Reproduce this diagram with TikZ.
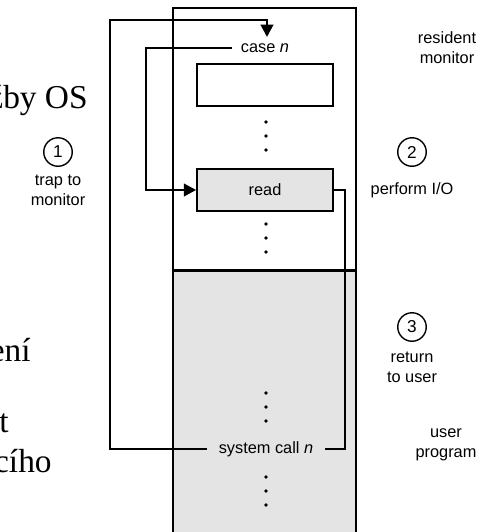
\documentclass[tikz,border=0pt]{standalone}
\usepackage{fontspec}
\setsansfont{Liberation Sans}
\newfontfamily\slidefont{Liberation Serif}
\usetikzlibrary{arrows.meta,positioning}

\definecolor{usergray}{HTML}{E4E4E4}

\tikzset{
  lbl/.style={font=\sffamily\fontsize{9.3}{11.5}\selectfont, align=center, inner sep=1pt},
  flow/.style={line width=1.6pt},
  stepnum/.style={circle, draw, line width=0.8pt, minimum size=0.57cm, inner sep=0pt, font=\sffamily\fontsize{9.8}{11}\selectfont},
  dot/.style={circle, fill, inner sep=0pt, minimum size=0.075cm}
}

\begin{document}
\begin{tikzpicture}[x=0.02cm, y=-0.02cm]
\useasboundingbox (0,0) rectangle (495,532);

% slide text behind the figure
\node (os) [anchor=east, inner sep=0pt, font=\slidefont\fontsize{19}{22}\selectfont] at (88,100) {žby OS};
\node (eni) [anchor=east, inner sep=0pt, font=\slidefont\fontsize{19}{22}\selectfont] at (31,350) {ení};
\node (tt) [anchor=east, inner sep=0pt, font=\slidefont\fontsize{19}{22}\selectfont] at (9,423) {t};
\node (ciho) [anchor=east, inner sep=0pt, font=\slidefont\fontsize{19}{22}\selectfont] at (52,461) {cího};

% memory
\fill[usergray] (173,270) rectangle (356,534);
\draw[line width=1.2pt] (173,534) -- (173,8) -- (356,8) -- (356,534);
\draw[line width=1.7pt] (173,270) -- (356,270);

\node (casen) [lbl, inner xsep=5pt] at (265,48) {case \textit{n}};
\node (tbl) [draw, line width=1.5pt, minimum width=2.72cm, minimum height=0.84cm] at (265,85) {};
\foreach \y in {122,136,150} \node[dot] at (266,\y) {};
\node (rd) [draw, fill=usergray, line width=0.9pt, minimum width=2.72cm, minimum height=0.84cm, lbl] at (265,190) {read};
\foreach \y in {224,238,252} \node[dot] at (266,\y) {};

\foreach \y in {393,407,421} \node[dot] at (266,\y) {};
\node (sysc) [lbl, inner xsep=6.5pt] at (266,449) {system call \textit{n}};
\foreach \y in {477,491,505} \node[dot] at (266,\y) {};

% connectors
\draw[flow, -{Triangle[length=7pt,width=7pt]}] (sysc.west) -- (110,449) -- (110,20) -- (267,20) -- (267,37);
\draw[flow, -{Triangle[length=7pt,width=7pt]}] (casen.west) -- (146,48) -- (146,190) -- (rd.west);
\draw[flow] (rd.east) -- (345,190) -- (345,449) -- (sysc.east);

% labels
\node (s1) [stepnum] at (58,152) {1};
\node (l1) [lbl] at (58,190) {trap to\\monitor};
\node (s2) [stepnum] at (412,152) {2};
\node (l2) [lbl] at (412,190) {perform I/O};
\node (s3) [stepnum] at (412,327) {3};
\node (l3) [lbl] at (412,367) {return\\to user};
\node (resmon) [lbl] at (447,48) {resident\\monitor};
\node (uprog) [lbl] at (446,445) {user\\program};
\end{tikzpicture}
\end{document}
